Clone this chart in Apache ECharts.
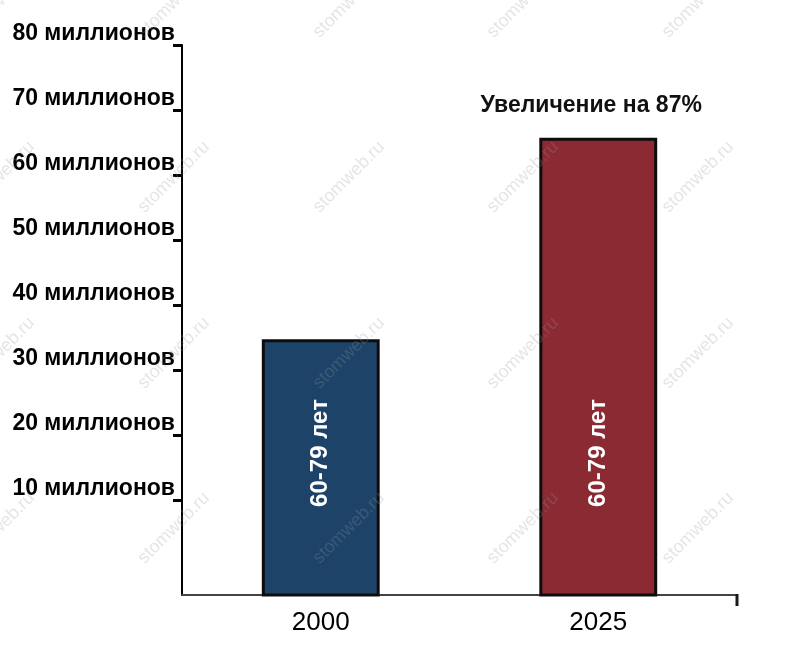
<!DOCTYPE html>
<html><head><meta charset="utf-8">
<script src="https://cdn.jsdelivr.net/npm/echarts@6/dist/echarts.min.js"></script>
<style>html,body{margin:0;padding:0;background:#fff}#c{width:792px;height:652px}</style>
</head><body><div id="c"></div>
<script>
const categories = ['2000', '2025'];
const values = [34.5, 65.5];
const barLabels = ['60-79 лет', '60-79 лет'];
const annotations = ['', 'Увеличение на 87%'];
const yTicks = [10, 20, 30, 40, 50, 60, 70, 80];
const yUnit = ' миллионов';
const barColors = ['#1d4468', '#8b2a33'];
const watermark = 'stomweb.ru';

const Y_MIN = -4.6, Y_MAX = 80;
const W = 792, H = 652;
const GRID = {left: 182, right: 55, top: 45, bottom: 57};
const FONT = '"Liberation Sans", Arial, sans-serif';

const chart = echarts.init(document.getElementById('c'), null, {renderer: 'canvas'});

const graphics = [];
for (const cx of [-1, 174, 349, 523, 698]) {
  for (const cy of [2, 177, 353, 528]) {
    graphics.push({type: 'text', x: cx, y: cy, rotation: Math.PI / 4, silent: true, z: 100,
      style: {text: watermark, fill: 'rgba(150,150,150,0.25)', font: '18px ' + FONT, align: 'center', verticalAlign: 'middle'}});
  }
}
graphics.push({type: 'line', z: 5,
  shape: {x1: W - GRID.right, y1: H - GRID.bottom - 1, x2: W - GRID.right, y2: H - GRID.bottom + 11},
  style: {stroke: '#1a1a1a', lineWidth: 3}});

const option = {
  animation: false,
  backgroundColor: '#fff',
  grid: {left: GRID.left, right: GRID.right, top: GRID.top, bottom: GRID.bottom, containLabel: false},
  graphic: graphics,
  xAxis: {
    type: 'category', data: categories,
    axisLine: {onZero: false, lineStyle: {color: '#444', width: 2}},
    axisTick: {show: false},
    axisLabel: {fontSize: 26, color: '#000', margin: 15, fontFamily: FONT}
  },
  yAxis: {
    type: 'value', min: Y_MIN, max: Y_MAX,
    splitLine: {show: false},
    axisLine: {show: true, lineStyle: {color: '#000', width: 2}},
    axisTick: {show: true, customValues: yTicks, length: 9, lineStyle: {color: '#000', width: 3}},
    axisLabel: {customValues: yTicks, formatter: v => v + yUnit, fontSize: 23, fontWeight: 'bold',
      color: '#000', margin: 7, verticalAlign: 'bottom', lineHeight: 23, fontFamily: FONT}
  },
  series: [{
    type: 'custom',
    data: categories.map((c, i) => [i, values[i]]),
    renderItem(params, api) {
      const i = api.value(0), v = api.value(1);
      const top = api.coord([i, v]);
      const base = api.coord([i, Y_MIN]);
      const band = api.size([1, 0])[0];
      const w = band * 0.414;
      const children = [
        {type: 'rect', shape: {x: top[0] - w / 2, y: top[1], width: w, height: base[1] - top[1]},
          style: {fill: barColors[i], stroke: '#0d0d0d', lineWidth: 3}},
        {type: 'text', x: top[0], y: base[1] - 142, rotation: Math.PI / 2,
          style: {text: barLabels[i], fill: '#fff', font: 'bold 24px ' + FONT, align: 'center', verticalAlign: 'middle'}}
      ];
      if (annotations[i]) {
        children.push({type: 'text', x: top[0] - 7, y: top[1] - 34,
          style: {text: annotations[i], fill: '#111', font: 'bold 23px ' + FONT, align: 'center', verticalAlign: 'middle'}});
      }
      return {type: 'group', children};
    }
  }]
};
chart.setOption(option);
</script></body></html>
